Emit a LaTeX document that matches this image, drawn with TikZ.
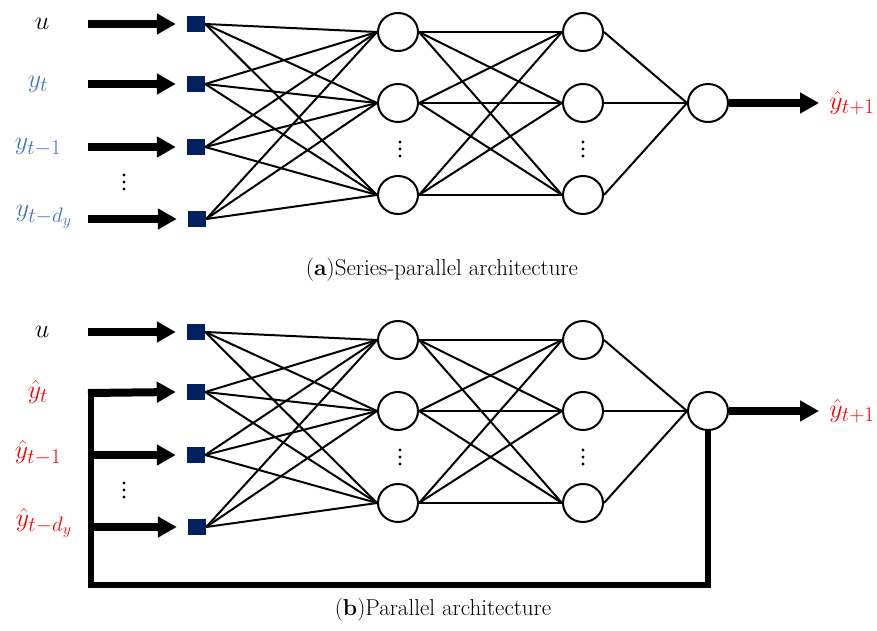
\RequirePackage{fix-cm}
\documentclass[tikz,border=0pt]{standalone}
\usetikzlibrary{arrows.meta,shapes.geometric}
\DeclareMathSizes{26}{26}{21}{16}
\definecolor{lblue}{RGB}{68,114,196}
\definecolor{navy}{RGB}{0,32,96}
\definecolor{lred}{RGB}{255,0,0}
\begin{document}
\begin{tikzpicture}[x=1pt,y=-1pt,
 sq/.style={rectangle,fill=navy,minimum width=18pt,minimum height=16pt,inner sep=0pt},
 neu/.style={ellipse,draw,line width=2pt,minimum width=40pt,minimum height=38pt,inner sep=0pt},
 conn/.style={line width=2pt},
 bigarrow/.style={line width=8pt,-{Triangle[length=19pt,width=20pt]}},
 fb/.style={line width=6pt,line join=miter},
 lbl/.style={font=\fontsize{26}{30}\selectfont,inner sep=0pt},
 captext/.style={font=\fontsize{23}{27}\selectfont,inner sep=0pt},
 dotmark/.style={circle,fill=black,inner sep=0pt,minimum size=3.4pt}]
\useasboundingbox (0,0) rectangle (877,631);

\foreach \p/\dy in {a/0,b/308}{
  \node[sq] (\p s1) at (196,24+\dy) {};
  \node[sq] (\p s2) at (196,84+\dy) {};
  \node[sq] (\p s3) at (196,147+\dy) {};
  \node[sq] (\p s4) at (197,219+\dy) {};
  \node[neu] (\p h1) at (398,32+\dy) {};
  \node[neu] (\p h2) at (398,103+\dy) {};
  \node[neu] (\p h3) at (398,195+\dy) {};
  \node[neu] (\p g1) at (583,32+\dy) {};
  \node[neu] (\p g2) at (583,103+\dy) {};
  \node[neu] (\p g3) at (583,195+\dy) {};
  \node[neu] (\p o) at (708,103+\dy) {};
  \foreach \k in {0,1,2}{
    \node[dotmark] (\p da\k) at (400,142+7*\k+\dy) {};
    \node[dotmark] (\p db\k) at (583,142+7*\k+\dy) {};
    \node[dotmark] (\p dc\k) at (124,175+7*\k+\dy) {};
  }
  \foreach \i in {1,...,4}{
    \foreach \j in {1,2,3}{
      \draw[conn] (\p s\i.east) -- (\p h\j.west);
    }
  }
  \foreach \i in {1,2,3}{
    \foreach \j in {1,2,3}{
      \draw[conn] (\p h\i.east) -- (\p g\j.west);
    }
    \draw[conn] (\p g\i.east) -- (\p o.west);
  }
  \coordinate (\p oend) at (819,103+\dy);
  \draw[bigarrow] (\p o.east) -- (\p oend);
  \node[lbl,text=lred] (\p ol) at (852,103+\dy) {$\hat{y}_{t+1}$};
  \coordinate (\p in1) at (88,24+\dy);
  \draw[bigarrow] (\p in1) -- ([xshift=-11pt]\p s1.west);
  \node[lbl] (\p l1) at (42,24+\dy) {$u$};
}

% top panel inputs
\coordinate (ain2) at (88,84);
\coordinate (ain3) at (88,147);
\coordinate (ain4) at (88,219);
\draw[bigarrow] (ain2) -- ([xshift=-11pt]as2.west);
\draw[bigarrow] (ain3) -- ([xshift=-11pt]as3.west);
\draw[bigarrow] (ain4) -- ([xshift=-11pt]as4.west);
\node[lbl,text=lblue] (al2) at (38,84) {$y_t$};
\node[lbl,text=lblue] (al3) at (38,147) {$y_{t-1}$};
\node[lbl,text=lblue] (al4) at (44,217) {$y_{t-d_y}$};
\node[captext] (capa) at (442,270) {(\textbf{a})Series-parallel architecture};

% bottom panel inputs with feedback
\coordinate (fbr) at (708,585);
\coordinate (fbl) at (91,585);
\coordinate (fbt) at (91,389);
\draw[fb] (bo.south) -- (fbr) -- (fbl) -- (fbt);
\coordinate (bin2) at (88,393);
\coordinate (bin3) at (91,455);
\coordinate (bin4) at (91,527);
\draw[bigarrow] (bin2) -- ([xshift=-11pt]bs2.west);
\draw[bigarrow] (bin3) -- ([xshift=-11pt]bs3.west);
\draw[bigarrow] (bin4) -- ([xshift=-11pt]bs4.west);
\node[lbl,text=lred] (bl2) at (38,392) {$\hat{y}_t$};
\node[lbl,text=lred] (bl3) at (38,453) {$\hat{y}_{t-1}$};
\node[lbl,text=lred] (bl4) at (44,523) {$\hat{y}_{t-d_y}$};
\node[captext] (capb) at (443,610) {(\textbf{b})Parallel architecture};
\end{tikzpicture}
\end{document}
